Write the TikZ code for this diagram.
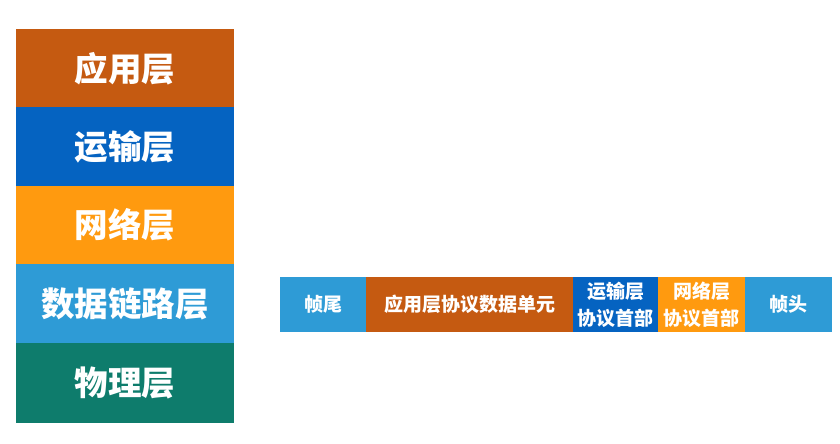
\documentclass[tikz,border=0pt]{standalone}
\usepackage{fontspec}
\setmainfont{Noto Sans CJK SC}
\definecolor{cbrown}{HTML}{C55A11}
\definecolor{cblue}{HTML}{0563C1}
\definecolor{corange}{HTML}{FF9A0F}
\definecolor{clblue}{HTML}{2E9BD6}
\definecolor{cteal}{HTML}{0E7C6C}
\begin{document}
\begin{tikzpicture}[x=1pt,y=-1pt,
  layer/.style={draw=none,inner sep=0pt,outer sep=0pt,text=white,font=\fontsize{33.5}{36}\selectfont\bfseries,minimum width=218pt,minimum height=79pt,anchor=north west},
  seg/.style={draw=none,inner sep=0pt,outer sep=0pt,text=white,font=\fontsize{19}{27}\selectfont\bfseries,minimum height=55pt,anchor=north west,align=center}]
\useasboundingbox[fill=white] (0,0) rectangle (840,444);
\node[layer,fill=cbrown] (app) at (16,29) {应用层};
\node[layer,fill=cblue] (tra) at (16,107) {运输层};
\node[layer,fill=corange] (net) at (16,185.5) {网络层};
\node[layer,fill=clblue] (dl) at (16,264) {数据链路层};
\node[layer,fill=cteal,minimum height=80pt] (phy) at (16,343) {物理层};
\node[seg,fill=clblue,minimum width=86pt] (tail) at (280,277) {帧尾};
\node[seg,fill=cbrown,minimum width=207pt] (pdu) at (366,277) {应用层协议数据单元};
\node[seg,fill=cblue,minimum width=85pt] (th) at (573,277) {运输层\\协议首部};
\node[seg,fill=corange,minimum width=87pt] (nh) at (658,277) {网络层\\协议首部};
\node[seg,fill=clblue,minimum width=87pt] (head) at (745,277) {帧头};
\end{tikzpicture}
\end{document}
